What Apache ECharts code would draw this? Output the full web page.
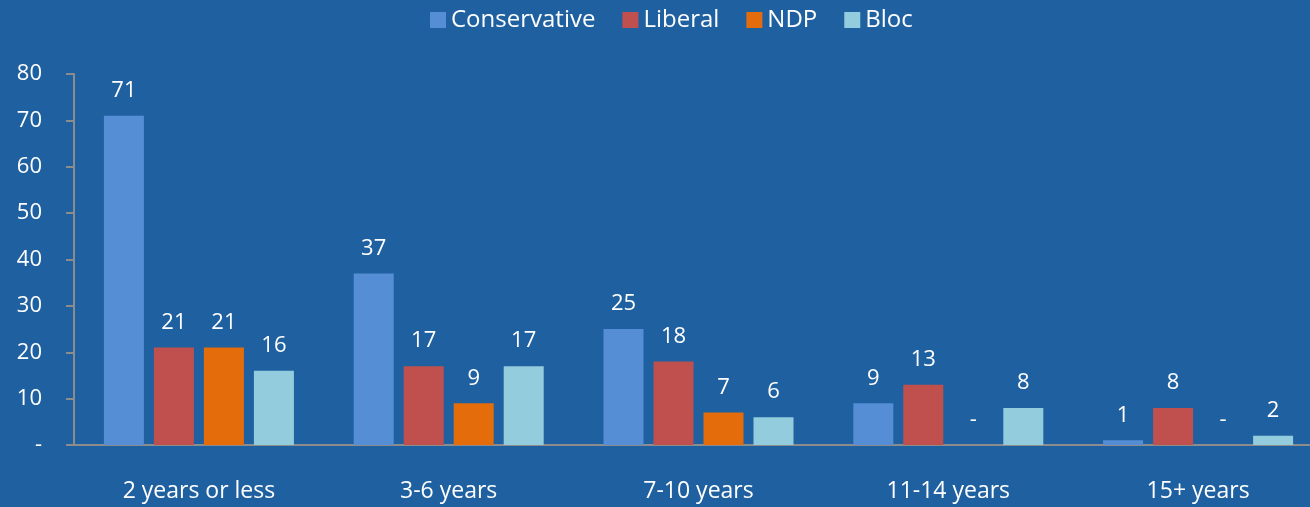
<!DOCTYPE html>
<html><head><meta charset="utf-8">
<script src="https://cdn.jsdelivr.net/npm/echarts@6/dist/echarts.min.js"></script>
<style>html,body{margin:0;padding:0;background:#1F60A0;overflow:hidden;}#c{width:1323px;height:507px;}</style>
</head><body><div id="c"></div>
<script>
const categories = ['2 years or less', '3-6 years', '7-10 years', '11-14 years', '15+ years'];
const conservative = [71, 37, 25, 9, 1];
const liberal = [21, 17, 18, 13, 8];
const ndp = [21, 9, 7, 0, 0];
const bloc = [16, 17, 6, 8, 2];
const seriesNames = ['Conservative', 'Liberal', 'NDP', 'Bloc'];
const colors = ['#558ED5', '#C0504D', '#E46C0A', '#93CDDD'];
const FONT = '"Open Sans", sans-serif';

const chart = echarts.init(document.getElementById('c'));
const data = [conservative, liberal, ndp, bloc];
chart.setOption({
  backgroundColor: '#1F60A0',
  animation: false,
  color: colors,
  legend: {
    top: 3, left: 425,
    itemWidth: 16, itemHeight: 16, itemGap: 27,
    icon: 'rect',
    textStyle: { color: '#fff', fontSize: 24, fontFamily: FONT },
    data: seriesNames
  },
  grid: { left: 74, right: 0, top: 74, bottom: 62 },
  xAxis: {
    type: 'category', data: categories,
    axisLine: { lineStyle: { color: '#8c8c8c', width: 2 } },
    axisTick: { show: false },
    axisLabel: { color: '#fff', fontSize: 23, fontFamily: FONT, margin: 35 }
  },
  yAxis: {
    type: 'value', min: 0, max: 80, interval: 10,
    axisLine: { show: true, lineStyle: { color: '#8c8c8c', width: 2 } },
    axisTick: { show: true, inside: false, length: 8, lineStyle: { color: '#8c8c8c', width: 2 } },
    splitLine: { show: false },
    axisLabel: { color: '#fff', fontSize: 22, fontFamily: FONT, margin: 32,
      formatter: v => v === 0 ? '-' : String(v) }
  },
  series: seriesNames.map((n, i) => ({
    name: n, type: 'bar', data: data[i],
    barWidth: 40, barGap: '25%',
    itemStyle: { color: colors[i] },
    label: { show: true, position: 'top', distance: 14, color: '#fff', fontSize: 22, fontFamily: FONT,
      formatter: p => p.value === 0 ? '-' : String(p.value) }
  }))
});
</script></body></html>
